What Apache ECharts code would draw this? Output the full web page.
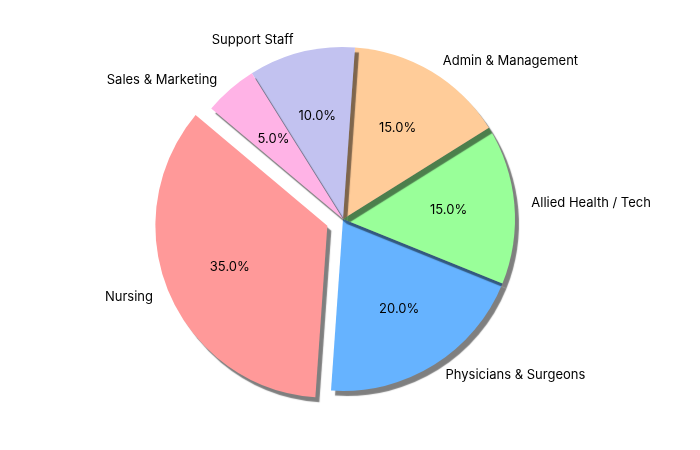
<!DOCTYPE html>
<html>
<head>
<meta charset="UTF-8">
<title>Workforce</title>
<script src="https://cdn.jsdelivr.net/npm/echarts@6/dist/echarts.min.js"></script>
<style>html,body{margin:0;background:#fff}#chart{width:700px;height:450px}</style>
</head>
<body>
<div id="chart"></div>
<script>
var categories = ['Nursing', 'Physicians & Surgeons', 'Allied Health / Tech', 'Admin & Management', 'Support Staff', 'Sales & Marketing'];
var shares = [35, 20, 15, 15, 10, 5];
var colors = ['#ff9999', '#66b3ff', '#99ff99', '#ffcc99', '#c2c2f0', '#ffb3e6'];

var chart = echarts.init(document.getElementById('chart'));
var font = 'Inter, "DejaVu Sans", sans-serif';

function buildData(withStyle) {
    return categories.map(function (c, i) {
        var d = { name: c, value: shares[i], selected: i === 0 };
        if (withStyle) {
            d.itemStyle = { color: colors[i] };
        }
        return d;
    });
}

var option = {
    animation: false,
    series: [
        {
            type: 'pie',
            center: [343, 219],
            radius: [0, 172],
            startAngle: 140,
            clockwise: false,
            selectedMode: 'multiple',
            selectedOffset: 17,
            itemStyle: {
                borderWidth: 0,
                shadowColor: 'rgba(0,0,0,0.5)',
                shadowBlur: 1,
                shadowOffsetX: 4,
                shadowOffsetY: 5
            },
            label: {
                position: 'outside',
                color: '#000',
                fontSize: 13,
                fontFamily: font,
                formatter: '{b}'
            },
            labelLine: { show: false, length: 12, length2: 0 },
            emphasis: { disabled: true },
            data: buildData(true)
        },
        {
            // transparent overlay for the percentage labels at 0.6 r
            type: 'pie',
            center: [343, 219],
            radius: [34, 172],
            startAngle: 140,
            clockwise: false,
            silent: true,
            selectedMode: 'multiple',
            selectedOffset: 17,
            itemStyle: { color: 'rgba(0,0,0,0)' },
            label: {
                position: 'inside',
                color: '#000',
                fontSize: 13,
                fontFamily: font,
                formatter: function (p) { return p.value.toFixed(1) + '%'; }
            },
            labelLine: { show: false },
            emphasis: { disabled: true },
            data: buildData(false)
        }
    ]
};
chart.setOption(option);
</script>
</body>
</html>
